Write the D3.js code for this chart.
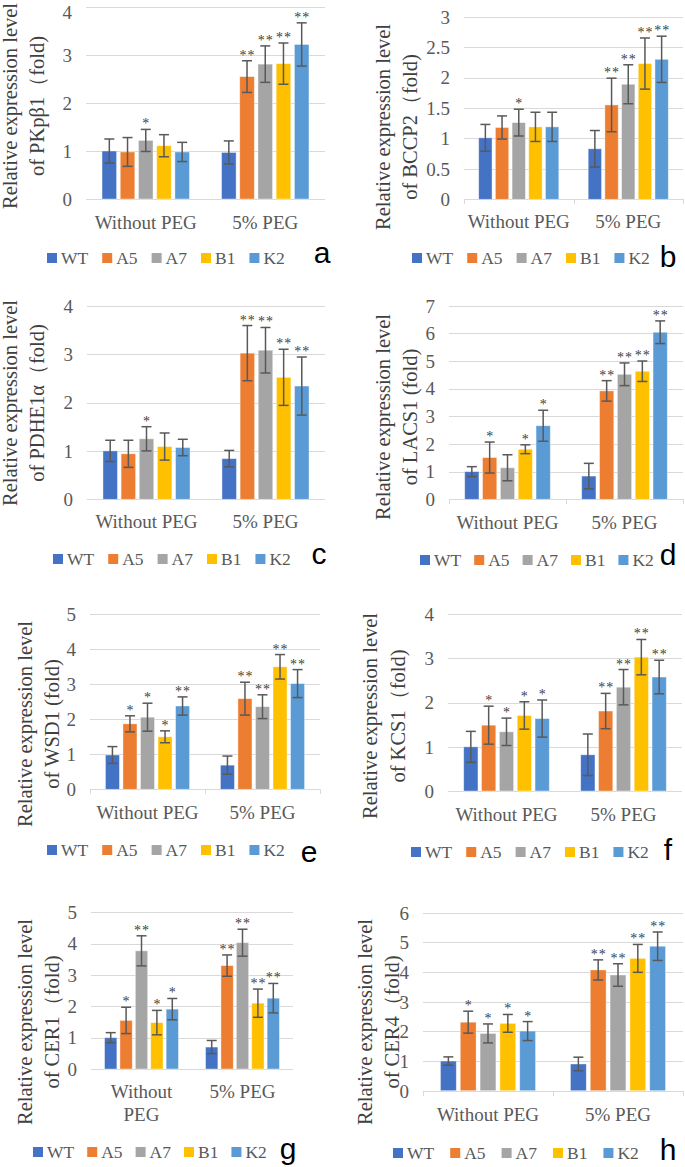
<!DOCTYPE html>
<html><head><meta charset="utf-8">
<script src="https://cdn.jsdelivr.net/npm/d3@7"></script>
<style>body{margin:0;background:#fff} svg{display:block}</style>
</head><body>
<svg id="c" width="685" height="1167"></svg>
<script>
// ---------- data ----------
const strains = ["WT", "A5", "A7", "B1", "K2"];
const treatments = ["Without PEG", "5% PEG"];
const palette = ["#4472C4", "#ED7D31", "#A5A5A5", "#FFC000", "#5B9BD5"];

const genes = ["PKpβ1", "BCCP2", "PDHE1α", "LACS1", "WSD1", "KCS1", "CER1", "CER4"];
const titles = ["of PKpβ1（fold)", "of BCCP2（fold)", "of PDHE1α（fold)", "of LACS1 (fold)",
                "of WSD1 (fold)", "of KCS1（fold)", "of CER1（fold)", "of CER4（fold)"];
const letters = ["a", "b", "c", "d", "e", "f", "g", "h"];

const ticksA = [0, 1, 2, 3, 4];
const ticksB = [0, 0.5, 1, 1.5, 2, 2.5, 3];
const ticksC = [0, 1, 2, 3, 4];
const ticksD = [0, 1, 2, 3, 4, 5, 6, 7];
const ticksE = [0, 1, 2, 3, 4, 5];
const ticksF = [0, 1, 2, 3, 4];
const ticksG = [0, 1, 2, 3, 4, 5];
const ticksH = [0, 1, 2, 3, 4, 5, 6];

// means [Without PEG, 5% PEG]
const meanA = [[1.00, 0.98, 1.22, 1.11, 0.98], [0.97, 2.55, 2.81, 2.82, 3.22]];
const errA  = [[0.25, 0.30, 0.23, 0.23, 0.20], [0.24, 0.33, 0.38, 0.43, 0.45]];
const sigA  = [["", "", "*", "", ""], ["", "**", "**", "**", "**"]];

const meanB = [[1.01, 1.18, 1.26, 1.19, 1.19], [0.83, 1.55, 1.89, 2.23, 2.30]];
const errB  = [[0.22, 0.19, 0.22, 0.24, 0.24], [0.30, 0.44, 0.32, 0.42, 0.38]];
const sigB  = [["", "", "*", "", ""], ["", "**", "**", "**", "**"]];

const meanC = [[1.00, 0.94, 1.25, 1.09, 1.07], [0.84, 3.02, 3.08, 2.52, 2.34]];
const errC  = [[0.22, 0.28, 0.25, 0.28, 0.17], [0.17, 0.57, 0.47, 0.58, 0.60]];
const sigC  = [["", "", "*", "", ""], ["", "**", "**", "**", "**"]];

const meanD = [[1.00, 1.51, 1.14, 1.81, 2.66], [0.84, 3.92, 4.52, 4.63, 6.04]];
const errD  = [[0.18, 0.56, 0.47, 0.16, 0.56], [0.46, 0.37, 0.41, 0.37, 0.41]];
const sigD  = [["", "*", "", "*", "*"], ["", "**", "**", "**", "**"]];

const meanE = [[0.98, 1.87, 2.06, 1.50, 2.38], [0.69, 2.59, 2.36, 3.50, 3.02]];
const errE  = [[0.24, 0.23, 0.40, 0.17, 0.26], [0.26, 0.47, 0.34, 0.35, 0.40]];
const sigE  = [["", "*", "*", "*", "**"], ["", "**", "**", "**", "**"]];

const meanF = [[1.00, 1.49, 1.34, 1.71, 1.64], [0.82, 1.81, 2.35, 3.03, 2.58]];
const errF  = [[0.35, 0.43, 0.31, 0.31, 0.42], [0.47, 0.40, 0.40, 0.40, 0.38]];
const sigF  = [["", "*", "*", "*", "*"], ["", "**", "**", "**", "**"]];

const meanG = [[1.00, 1.55, 3.77, 1.48, 1.91], [0.70, 3.30, 4.03, 2.10, 2.26]];
const errG  = [[0.16, 0.42, 0.48, 0.39, 0.34], [0.21, 0.34, 0.43, 0.45, 0.47]];
const sigG  = [["", "*", "**", "*", "*"], ["", "**", "**", "**", "**"]];

const meanH = [[1.00, 2.31, 1.93, 2.27, 2.01], [0.90, 4.07, 3.90, 4.46, 4.87]];
const errH  = [[0.14, 0.37, 0.32, 0.30, 0.32], [0.23, 0.34, 0.38, 0.47, 0.48]];
const sigH  = [["", "*", "*", "*", "*"], ["", "**", "**", "**", "**"]];

// ---------- layout ----------
const layout = [
  {mean: meanA, err: errA, sig: sigA, ticks: ticksA, x0: 86,  x1: 325, yT: 7,     y0: 199,   t1: 10,  t2: 37,  tc: 106,  cy: 229,  ly: 258,  lx: 47,  lgap: 14, ax: 322, ay: 263, axTicks: false},
  {mean: meanB, err: errB, sig: sigB, ticks: ticksB, x0: 464, x1: 683, yT: 16.7,  y0: 199.3, t1: 383, t2: 410, tc: 127,  cy: 228,  ly: 258,  lx: 412, lgap: 14, ax: 668, ay: 267, axTicks: true},
  {mean: meanC, err: errC, sig: sigC, ticks: ticksC, x0: 87,  x1: 325, yT: 305.7, y0: 499.3, t1: 10,  t2: 37,  tc: 403,  cy: 528,  ly: 559,  lx: 53,  lgap: 14, ax: 319, ay: 564, axTicks: false},
  {mean: meanD, err: errD, sig: sigD, ticks: ticksD, x0: 449, x1: 683, yT: 305.7, y0: 499.3, t1: 383, t2: 410, tc: 417,  cy: 529,  ly: 560,  lx: 420, lgap: 13, ax: 668, ay: 565, axTicks: true},
  {mean: meanE, err: errE, sig: sigE, ticks: ticksE, x0: 90,  x1: 320, yT: 614.3, y0: 789.3, t1: 25,  t2: 52,  tc: 724,  cy: 819,  ly: 850,  lx: 47,  lgap: 14, ax: 309, ay: 862, axTicks: true},
  {mean: meanF, err: errF, sig: sigF, ticks: ticksF, x0: 448, x1: 682, yT: 614.3, y0: 791,   t1: 370, t2: 398, tc: 716,  cy: 821,  ly: 852,  lx: 411, lgap: 14, ax: 668, ay: 860, axTicks: false},
  {mean: meanG, err: errG, sig: sigG, ticks: ticksG, x0: 91,  x1: 293, yT: 912.3, y0: 1069,  t1: 25,  t2: 52,  tc: 1022, cy: 1098, ly: 1152, lx: 33,  lgap: 13, ax: 288, ay: 1159, axTicks: false},
  {mean: meanH, err: errH, sig: sigH, ticks: ticksH, x0: 423, x1: 683, yT: 912.7, y0: 1090.7,t1: 365, t2: 392, tc: 1022, cy: 1121, ly: 1153, lx: 393, lgap: 16, ax: 668, ay: 1160, axTicks: true}
];

const svg = d3.select("#c");
const serif = "'Liberation Serif','Times New Roman',serif";
const gridCol = "#D9D9D9", txtCol = "#595959";

// measurement helper
const meas = svg.append("text").attr("font-family", serif).attr("font-size", 19).attr("visibility", "hidden");
function textW(s, size) { meas.attr("font-size", size).text(s); return meas.node().getComputedTextLength(); }

layout.forEach((p, i) => {
  const g = svg.append("g");
  const ymax = p.ticks[p.ticks.length - 1];
  const y = d3.scaleLinear().domain([0, ymax]).range([p.y0, p.yT]);
  const xg = d3.scaleBand().domain(treatments).range([p.x0, p.x1]).paddingInner(0).paddingOuter(0);
  const xs = d3.scaleBand().domain(strains).range([0, xg.bandwidth()]).paddingInner(0.2).paddingOuter(0.88);

  // gridlines
  g.selectAll("line.grid").data(p.ticks).join("line")
    .attr("x1", p.x0).attr("x2", p.x1)
    .attr("y1", d => Math.round(y(d)) + 0.5).attr("y2", d => Math.round(y(d)) + 0.5)
    .attr("stroke", gridCol).attr("stroke-width", 1);

  // y tick labels
  const yAxis = d3.axisLeft(y).tickValues(p.ticks).tickSize(0).tickPadding(0).tickFormat(d3.format(""));
  const ya = g.append("g").attr("transform", `translate(${p.x0 - 14},0)`).call(yAxis);
  ya.select(".domain").remove();
  ya.selectAll("text").attr("font-family", serif).attr("font-size", 19).attr("fill", txtCol)
    .attr("dy", d => (y(d) < 12 ? (12 - y(d)) + 6.3 : 6.3) + "px");

  // x axis ticks at category boundaries
  if (p.axTicks) {
    const bounds = [p.x0, p.x0 + xg.bandwidth(), p.x1];
    g.selectAll("line.xt").data(bounds).join("line")
      .attr("x1", d => Math.round(d) + 0.5).attr("x2", d => Math.round(d) + 0.5)
      .attr("y1", Math.round(p.y0)).attr("y2", Math.round(p.y0) + 5)
      .attr("stroke", gridCol);
  }

  // bars, error bars, stars
  treatments.forEach((t, ti) => {
    strains.forEach((s, si) => {
      const m = p.mean[ti][si], e = p.err[ti][si];
      const bx = xg(t) + xs(s), bw = xs.bandwidth(), cx = bx + bw / 2;
      g.append("rect").attr("x", bx).attr("y", y(m)).attr("width", bw).attr("height", y(0) - y(m))
        .attr("fill", palette[si]).attr("stroke", "#ffffff").attr("stroke-opacity", 0.5).attr("stroke-width", 0.8);
      const top = y(m + e), bot = y(m - e);
      g.append("line").attr("x1", cx).attr("x2", cx).attr("y1", top).attr("y2", bot).attr("stroke", "#595959").attr("stroke-width", 1.5);
      [top, bot].forEach(yy => g.append("line").attr("x1", cx - 5).attr("x2", cx + 5).attr("y1", yy).attr("y2", yy).attr("stroke", "#595959").attr("stroke-width", 1.5));
      const sg = p.sig[ti][si];
      if (sg) {
        const n = sg.length;
        for (let k = 0; k < n; k++) {
          const off = n > 1 ? (k - (n - 1) / 2) * 8 : 0;
          g.append("text").attr("x", cx + off).attr("y", top - 1)
            .attr("text-anchor", "middle").attr("font-family", serif).attr("font-size", 14)
            .attr("fill", "#404040").text("*");
        }
      }
    });
  });

  // category labels (wrap if too wide)
  treatments.forEach(t => {
    const cx = xg(t) + xg.bandwidth() / 2;
    const lines = textW(t, 19) > xg.bandwidth() * 0.97 ? t.split(" ") : [t];
    const tx = g.append("text").attr("text-anchor", "middle").attr("font-family", serif)
      .attr("font-size", 19).attr("fill", txtCol);
    lines.forEach((ln, li) => tx.append("tspan").attr("x", cx).attr("y", p.cy + li * 23).text(ln));
  });

  // y title
  [["Relative expression level", p.t1], [titles[i], p.t2]].forEach(([txt, xx]) => {
    g.append("text").attr("transform", `translate(${xx},${p.tc}) rotate(-90)`)
      .attr("text-anchor", "middle").attr("dominant-baseline", "central")
      .attr("font-family", serif).attr("font-size", 20.5).attr("fill", "#404040").text(txt);
  });

  // legend
  let lx = p.lx;
  strains.forEach((s, si) => {
    g.append("rect").attr("x", lx).attr("y", p.ly - 5).attr("width", 10).attr("height", 10).attr("fill", palette[si]);
    g.append("text").attr("x", lx + 14).attr("y", p.ly).attr("dy", "0.35em")
      .attr("font-family", serif).attr("font-size", 17.5).attr("fill", txtCol).text(s);
    lx += 14 + textW(s, 17.5) + p.lgap;
  });

  // panel letter
  g.append("text").attr("x", p.ax).attr("y", p.ay).attr("text-anchor", "middle")
    .attr("font-family", "'Liberation Sans',Arial,sans-serif").attr("font-size", 30).attr("fill", "#000").text(letters[i]);
});
meas.remove();
</script>
</body></html>
